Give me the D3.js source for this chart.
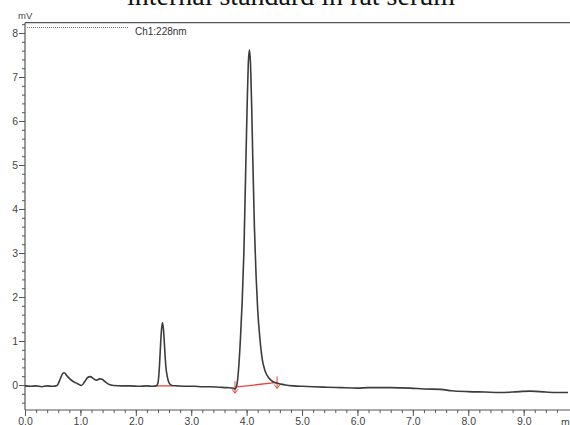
<!DOCTYPE html>
<html>
<head>
<meta charset="utf-8">
<script src="https://cdn.jsdelivr.net/npm/d3@7"></script>
<style>
  body { margin: 0; background: #fff; }
  svg { display: block; }
</style>
</head>
<body>
<div id="chart"></div>
<script>
// chromatogram trace, Ch1:228nm (time in min, signal in mV)
const times = [
  0.00, 0.10, 0.20, 0.30, 0.40, 0.50, 0.58, 0.63, 0.68, 0.71, 0.75, 0.80, 0.87, 0.95,
  1.02, 1.08, 1.13, 1.18, 1.23, 1.29, 1.35, 1.39, 1.45, 1.52, 1.60, 1.75, 1.90, 2.05,
  2.20, 2.30, 2.37, 2.40, 2.42, 2.44, 2.46, 2.48, 2.50, 2.52, 2.54, 2.57, 2.60, 2.65,
  2.75, 2.90, 3.05, 3.20, 3.35, 3.50, 3.65, 3.75, 3.79, 3.82, 3.86, 3.89, 3.92, 3.95,
  3.98, 4.01, 4.03, 4.05, 4.07, 4.09, 4.11, 4.14, 4.17, 4.20, 4.24, 4.28, 4.33, 4.40,
  4.47, 4.55, 4.62, 4.70, 4.85, 5.00, 5.20, 5.45, 5.70, 6.00, 6.20, 6.40, 6.60, 6.95,
  7.20, 7.50, 7.70, 8.00, 8.30, 8.57, 8.80, 9.12, 9.40, 9.60, 9.80
];
const signal = [
  -0.02, -0.03, -0.02, -0.04, -0.02, -0.03, -0.01, 0.12, 0.26, 0.28, 0.22, 0.15, 0.08, 0.03,
  -0.01, 0.08, 0.17, 0.19, 0.15, 0.11, 0.14, 0.13, 0.07, 0.01, -0.01, -0.02, -0.02, -0.03,
  -0.02, -0.03, -0.02, 0.05, 0.30, 0.75, 1.20, 1.42, 1.25, 0.85, 0.45, 0.18, 0.05, -0.01,
  -0.02, -0.03, -0.03, -0.04, -0.04, -0.05, -0.06, -0.07, -0.09, -0.02, 0.45, 1.10, 1.90, 3.00,
  4.70, 6.40, 7.30, 7.62, 7.30, 6.40, 5.20, 3.60, 2.50, 1.70, 1.05, 0.60, 0.33, 0.16,
  0.08, 0.04, 0.02, 0.00, -0.02, -0.03, -0.04, -0.05, -0.06, -0.07, -0.06, -0.06, -0.06, -0.07,
  -0.09, -0.10, -0.13, -0.15, -0.16, -0.17, -0.16, -0.14, -0.16, -0.17, -0.17
];

// integration baselines drawn in red: [start time, start mV, end time, end mV]
const baselines = [
  [2.38, -0.02, 2.66, -0.02],
  [3.79, -0.05, 4.55, 0.06]
];

const xMajor = [0, 1, 2, 3, 4, 5, 6, 7, 8, 9];
const yMajor = [0, 1, 2, 3, 4, 5, 6, 7, 8];

const title = "internal standard in rat serum";
const channel = "Ch1:228nm";

const width = 570, height = 425;
const margin = {top: 23, left: 25, right: 0, bottom: 15};

const svg = d3.select("#chart").append("svg")
  .attr("width", width)
  .attr("height", height);

// scales
const x = d3.scaleLinear().domain([0, 9.8]).range([25, 568]);
const y = d3.scaleLinear().domain([0, 8]).range([385, 33]);

const axisColor = "#555";
const font = "Liberation Sans, Arial, sans-serif";

// title (cut by the top edge in the original)
svg.append("text")
  .attr("x", 291).attr("y", 5)
  .attr("text-anchor", "middle")
  .attr("font-family", "Liberation Serif, Times New Roman, serif")
  .attr("font-size", 28)
  .attr("fill", "#111")
  .text(title);

// frame: top line + left axis
const yTop = 22.7, yBottom = 410;
svg.append("line")
  .attr("x1", 25).attr("x2", width).attr("y1", yTop).attr("y2", yTop)
  .attr("stroke", axisColor).attr("stroke-width", 1.2);
svg.append("line")
  .attr("x1", 25).attr("x2", 25).attr("y1", yTop).attr("y2", yBottom)
  .attr("stroke", axisColor).attr("stroke-width", 1.2);

// x axis
const xMinor = d3.range(0, 49).map(i => i * 0.2).filter(v => v <= 9.8);
const xAxis = d3.axisBottom(x)
  .tickValues(xMinor)
  .tickSize(3)
  .tickFormat("");
const gx = svg.append("g").attr("transform", `translate(0,${yBottom})`).call(xAxis);
gx.select(".domain").attr("d", `M25,0H${width}`).attr("stroke", axisColor).attr("stroke-width", 1.2);
gx.selectAll(".tick line").attr("stroke", axisColor);

const xAxisMajor = d3.axisBottom(x)
  .tickValues(xMajor)
  .tickSize(6)
  .tickFormat(d3.format(".1f"));
const gx2 = svg.append("g").attr("transform", `translate(0,${yBottom})`).call(xAxisMajor);
gx2.select(".domain").remove();
gx2.selectAll(".tick line").attr("stroke", axisColor);
gx2.selectAll(".tick text")
  .attr("y", 8)
  .attr("dy", "0.71em")
  .attr("font-family", font)
  .attr("font-size", 10.5)
  .attr("fill", "#444");

svg.append("text")
  .attr("x", 561).attr("y", 425.5)
  .attr("font-family", font).attr("font-size", 10.5)
  .attr("fill", "#444")
  .text("min");

// y axis
const yMinor = d3.range(-2, 42).map(i => i * 0.2);
const yAxis = d3.axisLeft(y)
  .tickValues(yMinor)
  .tickSize(3)
  .tickFormat("");
const gy = svg.append("g").attr("transform", "translate(25,0)").call(yAxis);
gy.select(".domain").remove();
gy.selectAll(".tick line").attr("stroke", axisColor);

const yAxisMajor = d3.axisLeft(y)
  .tickValues(yMajor)
  .tickSize(6)
  .tickFormat(d3.format("d"));
const gy2 = svg.append("g").attr("transform", "translate(25,0)").call(yAxisMajor);
gy2.select(".domain").remove();
gy2.selectAll(".tick line").attr("stroke", axisColor);
gy2.selectAll(".tick text")
  .attr("x", -7)
  .attr("font-family", font)
  .attr("font-size", 10.5)
  .attr("fill", "#444");

svg.append("text")
  .attr("x", 18).attr("y", 19)
  .attr("font-family", font).attr("font-size", 9.5)
  .attr("fill", "#444")
  .text("mV");

// legend: dotted line + channel name
svg.append("line")
  .attr("x1", 27).attr("x2", 128).attr("y1", 27.5).attr("y2", 27.5)
  .attr("stroke", "#777").attr("stroke-width", 1)
  .attr("stroke-dasharray", "1,1");
svg.append("text")
  .attr("x", 135).attr("y", 35)
  .attr("font-family", font).attr("font-size", 10)
  .attr("fill", "#333")
  .text(channel);

// red integration baselines
const red = "#e8463c";
svg.selectAll(".base")
  .data(baselines)
  .enter().append("line")
  .attr("class", "base")
  .attr("x1", d => x(d[0])).attr("y1", d => y(d[1]))
  .attr("x2", d => x(d[2])).attr("y2", d => y(d[3]))
  .attr("stroke", red).attr("stroke-width", 1.3);

// start/end markers on the main peak baseline
const mk = baselines[1];
const marks = [[mk[0], mk[1]], [mk[2], mk[3]]];
marks.forEach(m => {
  const px = x(m[0]), py = y(m[1]);
  svg.append("path")
    .attr("d", `M${px},${py - 6}V${py + 6}M${px - 3},${py + 2}L${px},${py + 6}L${px + 3},${py + 2}`)
    .attr("fill", "none")
    .attr("stroke", red).attr("stroke-width", 1);
});

// trace
const pts = times.map((t, i) => [t, signal[i]]);
const line = d3.line()
  .x(d => x(d[0]))
  .y(d => y(d[1]))
  .curve(d3.curveMonotoneX);

svg.append("path")
  .datum(pts)
  .attr("fill", "none")
  .attr("stroke", "#3c3c3c")
  .attr("stroke-width", 1.6)
  .attr("stroke-linejoin", "round")
  .attr("d", line);
</script>
</body>
</html>
